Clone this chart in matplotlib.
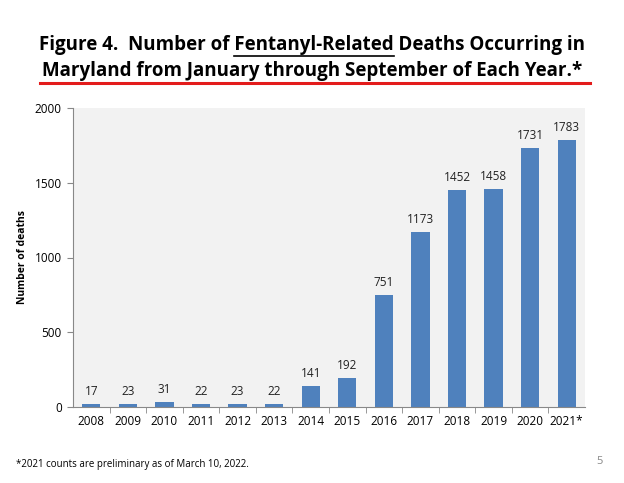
import matplotlib
matplotlib.use("Agg")
import matplotlib.pyplot as plt
from matplotlib.lines import Line2D

years = ["2008", "2009", "2010", "2011", "2012", "2013", "2014", "2015",
         "2016", "2017", "2018", "2019", "2020", "2021*"]
deaths = [17, 23, 31, 22, 23, 22, 141, 192, 751, 1173, 1452, 1458, 1731, 1783]
yticks = [0, 500, 1000, 1500, 2000]

plt.rcParams['font.family'] = ['Open Sans', 'DejaVu Sans']

fig = plt.figure(figsize=(6.24, 4.83), dpi=100)
ax = fig.add_axes([73/624, 1-407/483, 512/624, 299/483])
ax.set_facecolor("#f2f2f2")
x = list(range(len(years)))
ax.bar(x, deaths, width=0.5, color="#4f81bd", zorder=2)
for xi, v in zip(x, deaths):
    ax.text(xi, v + 40, str(v), ha="center", va="bottom", fontsize=8.5, color="#222222")
ax.set_xlim(-0.5, len(years) - 0.5)
ax.set_ylim(0, 2000)
ax.set_yticks(yticks)
ax.set_yticklabels([str(t) for t in yticks], fontsize=8.5)
ax.set_xticks(x)
ax.set_xticklabels(years, fontsize=8.5)
ax.set_xticks([i + 0.5 for i in x[:-1]], minor=True)
ax.tick_params(axis="x", which="major", length=0, pad=6)
ax.tick_params(axis="x", which="minor", length=4, color="#888888")
ax.tick_params(axis="y", length=4, color="#888888", pad=4)
for s in ["top", "right"]:
    ax.spines[s].set_visible(False)
ax.spines["left"].set_color("#888888")
ax.spines["bottom"].set_color("#888888")
ax.set_ylabel("Number of deaths", fontsize=7.5, fontweight="bold", labelpad=5)

TS = 13.5
l1a = fig.text(0.5, 1-45/483, "Figure 4.  Number of Fentanyl-Related Deaths Occurring in",
               ha="center", va="center", fontsize=TS, fontweight="bold")
fig.text(0.5, 1-71/483, "Maryland from January through September of Each Year.*",
         ha="center", va="center", fontsize=TS, fontweight="bold")

# underline "Fentanyl-Related"
fig.canvas.draw()
r = fig.canvas.get_renderer()
pre = "Figure 4.  Number of "
word = "Fentanyl-Related"
bb = l1a.get_window_extent(r)
tmp = fig.text(0, 0, pre, fontsize=TS, fontweight="bold")
wpre = tmp.get_window_extent(r).width
tmp.set_text(pre + word)
wword = tmp.get_window_extent(r).width
tmp.remove()
x0 = (bb.x0 + wpre) / 624
x1 = (bb.x0 + wword) / 624
yu = 1 - 56/483
fig.add_artist(Line2D([x0, x1], [yu, yu], color="black", lw=1.2))

fig.add_artist(Line2D([40/624, 590/624], [1-83/483, 1-83/483], color="#e31b1b", lw=2.2))

fig.text(16/624, 1-465/483, "*2021 counts are preliminary as of March 10, 2022.", fontsize=7, va="center")
fig.text(600/624, 1-462/483, "5", fontsize=8, color="#888888", ha="center", va="center")

fig.savefig("out.png", dpi=100)
